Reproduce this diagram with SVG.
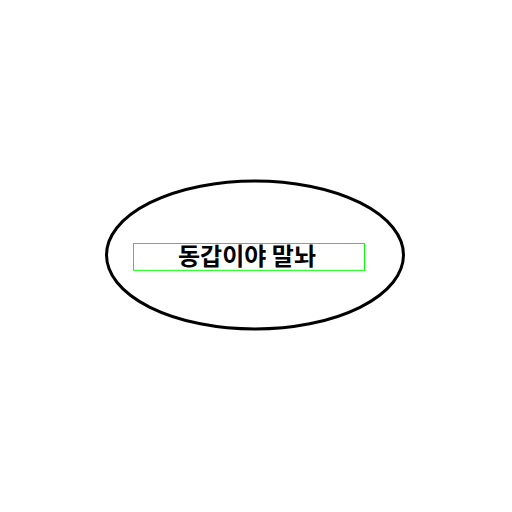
<svg xmlns="http://www.w3.org/2000/svg" width="512" height="512" viewBox="0 0 512 512">
<style>
.shape{fill:#ffffff;stroke:#000000;stroke-width:3}
.box{fill:none;stroke:#00ff00;stroke-width:1}
.label{font-family:"Noto Sans CJK KR","Noto Sans",sans-serif;font-weight:bold;font-size:24px;fill:#000000}
</style>
<rect x="0" y="0" width="512" height="512" fill="#ffffff"/>
<g id="node-ellipse">
<ellipse class="shape" cx="255" cy="255" rx="148.5" ry="74"/>
<rect class="box" x="133.5" y="243.5" width="231" height="26.8"/>
<text class="label" x="247" y="265" text-anchor="middle">동갑이야 말놔</text>
</g>
<g id="connectors"></g>
</svg>
